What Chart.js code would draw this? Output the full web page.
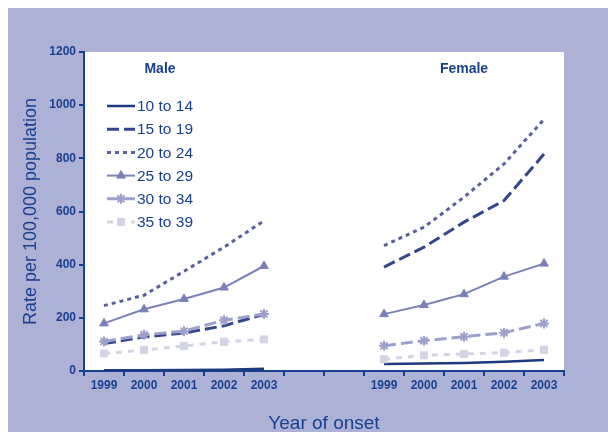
<!DOCTYPE html>
<html>
<head>
<meta charset="utf-8">
<script src="https://cdn.jsdelivr.net/npm/chart.js@4/dist/chart.umd.min.js"></script>
<style>
  html, body { margin: 0; padding: 0; background: #ffffff; }
  #wrap { position: relative; width: 608px; height: 432px; overflow: hidden; }
  #panel { position: absolute; left: 8px; top: 8px; width: 600px; height: 424px; background: #adb1d6; }
  #chart { position: absolute; left: 0; top: 0; }
</style>
</head>
<body>
<div id="wrap">
  <div id="panel"></div>
  <canvas id="chart" width="608" height="432"></canvas>
</div>
<script>
// categories: male years, two empty slots, female years
var years = ['1999', '2000', '2001', '2002', '2003', '', '', '1999', '2000', '2001', '2002', '2003'];
var groups = ['Male', 'Female'];
var ageGroups = ['10 to 14', '15 to 19', '20 to 24', '25 to 29', '30 to 34', '35 to 39'];

// rates per 100,000 (male 1999-2003, gap, female 1999-2003)
var age10to14 = [3, 3, 4, 5, 8, null, null, 26, 28, 30, 35, 41];
var age15to19 = [103, 128, 143, 170, 213, null, null, 391, 466, 560, 641, 816];
var age20to24 = [246, 285, 375, 466, 565, null, null, 472, 541, 654, 779, 947];
var age25to29 = [179, 232, 271, 314, 395, null, null, 214, 248, 289, 355, 404];
var age30to34 = [111, 136, 150, 191, 214, null, null, 95, 114, 129, 144, 179];
var age35to39 = [66, 79, 94, 110, 119, null, null, 44, 59, 64, 69, 80];

var navy = '#1a3f8f';
var font = 'Liberation Sans, Arial, sans-serif';

var seriesStyle = [
    { color: '#1b3a80', dash: [], width: 2.5, point: false },
    { color: '#35468a', dash: [12, 5], width: 3, point: false },
    { color: '#58609e', dash: [4, 4], width: 3, point: false },
    { color: '#7b80b8', dash: [], width: 2, point: 'triangle' },
    { color: '#9ca0cb', dash: [12, 5], width: 3, point: 'star' },
    { color: '#d3d5e6', dash: [6, 6], width: 3, point: 'rect' }
];
var seriesData = [age10to14, age15to19, age20to24, age25to29, age30to34, age35to39];

var datasets = ageGroups.map(function (name, i) {
    var s = seriesStyle[i];
    return {
        label: name,
        data: seriesData[i],
        borderColor: s.color,
        backgroundColor: s.color,
        borderWidth: s.width,
        borderDash: s.dash,
        pointStyle: s.point || 'circle',
        pointRadius: s.point ? 5 : 0,
        pointBorderWidth: s.point === 'star' ? 2 : 1,
        spanGaps: false,
        tension: 0
    };
}).reverse();

// white plot area behind the lines
var plotBackground = {
    id: 'plotBackground',
    beforeDraw: function (chart) {
        var a = chart.chartArea, ctx = chart.ctx;
        ctx.save();
        ctx.fillStyle = '#ffffff';
        ctx.fillRect(a.left, a.top, a.right - a.left, a.bottom - a.top);
        ctx.restore();
    }
};

// group names and the legend inside the plot
var annotations = {
    id: 'annotations',
    afterDraw: function (chart) {
        var ctx = chart.ctx, x = chart.scales.x;
        ctx.save();
        ctx.fillStyle = navy;
        ctx.font = 'bold 14px ' + font;
        ctx.textAlign = 'center';
        ctx.textBaseline = 'middle';
        ctx.fillText(groups[0], x.getPixelForValue(1.4), 69);
        ctx.fillText(groups[1], x.getPixelForValue(9), 69);

        ctx.font = '15.5px ' + font;
        ctx.textAlign = 'left';
        ageGroups.forEach(function (name, i) {
            var s = seriesStyle[i];
            var y = 106 + i * 23.2;
            ctx.save();
            ctx.strokeStyle = s.color;
            ctx.lineWidth = s.width;
            ctx.setLineDash(s.dash);
            ctx.beginPath();
            ctx.moveTo(107, y);
            ctx.lineTo(135, y);
            ctx.stroke();
            ctx.restore();
            if (s.point) {
                ctx.save();
                ctx.fillStyle = s.color;
                ctx.strokeStyle = s.color;
                ctx.lineWidth = s.point === 'star' ? 2 : 1;
                Chart.helpers.drawPoint(ctx, { pointStyle: s.point, radius: 5, rotation: 0, borderWidth: ctx.lineWidth }, 121, y);
                ctx.restore();
            }
            ctx.fillStyle = navy;
            ctx.fillText(name, 137, y + 1);
        });
        ctx.restore();
    }
};

var config = {
    type: 'line',
    data: { labels: years, datasets: datasets },
    options: {
        responsive: false,
        animation: false,
        layout: { padding: { left: 20, top: 52, right: 44, bottom: 0 } },
        scales: {
            x: {
                offset: true,
                grid: { offset: true, drawOnChartArea: false, drawTicks: true, tickLength: 5, color: navy, lineWidth: 2 },
                border: { color: navy, width: 2 },
                ticks: { color: navy, font: { family: font, size: 12, weight: 'bold' }, padding: 2, maxRotation: 0, autoSkip: false },
                title: { display: true, text: 'Year of onset', color: navy, font: { family: font, size: 19 }, padding: { top: 0, bottom: -3 } },
                afterFit: function (scale) { scale.height = 61; }
            },
            y: {
                min: 0,
                max: 1200,
                ticks: {
                    stepSize: 200, color: navy, font: { family: font, size: 12, weight: 'bold' }, padding: 3,
                    callback: function (v) { return String(v); }
                },
                grid: { drawOnChartArea: false, drawTicks: true, tickLength: 5, color: navy, lineWidth: 2 },
                border: { color: navy, width: 2 },
                title: { display: true, text: 'Rate per 100,000 population', color: navy, font: { family: font, size: 18 }, padding: { top: 0, bottom: 4 } },
                afterFit: function (scale) { scale.width = 64; }
            }
        },
        plugins: {
            legend: { display: false },
            tooltip: { enabled: false }
        }
    },
    plugins: [plotBackground, annotations]
};

var ctx = document.getElementById('chart').getContext('2d');
var chart = new Chart(ctx, config);
</script>
</body>
</html>
